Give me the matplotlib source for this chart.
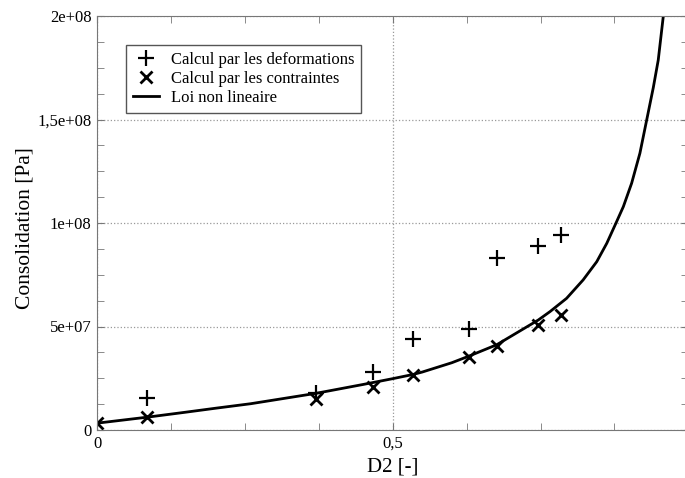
import matplotlib
matplotlib.use('Agg')
import matplotlib.pyplot as plt
from matplotlib.ticker import MultipleLocator, FuncFormatter

plt.rcParams['font.family'] = ['Liberation Serif', 'DejaVu Serif']

# points
d2 = [0.0, 0.085, 0.370, 0.466, 0.534, 0.629, 0.676, 0.746, 0.785]
cons_deform = [None, 1.55e7, 1.80e7, 2.80e7, 4.38e7, 4.89e7, 8.32e7, 8.89e7, 9.42e7]
cons_contr = [3.4e6, 6.3e6, 1.50e7, 2.09e7, 2.64e7, 3.54e7, 4.06e7, 5.07e7, 5.57e7]

# non linear law
loi_x = [0.0, 0.085, 0.15, 0.20, 0.26, 0.37, 0.45, 0.50, 0.534, 0.55, 0.60, 0.629,
         0.676, 0.746, 0.766, 0.794, 0.822, 0.845, 0.862, 0.8776, 0.890, 0.904,
         0.918, 0.9295, 0.9407, 0.949, 0.9576, 0.964]
loi_y = [3.3e6, 6.2e6, 8.6e6, 1.05e7, 1.27e7, 1.77e7, 2.2e7, 2.48e7, 2.68e7, 2.8e7,
         3.25e7, 3.57e7, 4.12e7, 5.31e7, 5.72e7, 6.36e7, 7.25e7, 8.13e7, 9.02e7,
         1.0e8, 1.079e8, 1.192e8, 1.337e8, 1.498e8, 1.655e8, 1.787e8, 2.0e8, 2.18e8]

fig = plt.figure(figsize=(6.85, 4.78), dpi=100)
ax = fig.add_axes([97 / 685, 48 / 478, 591.4 / 685, 414 / 478])

px = [x for x, y in zip(d2, cons_deform) if y is not None]
py = [y for y in cons_deform if y is not None]
ax.plot(px, py, linestyle='none', marker='+', markersize=12, markeredgewidth=1.6,
        color='black', label='Calcul par les deformations')
ax.plot(d2, cons_contr, linestyle='none', marker='x', markersize=9, markeredgewidth=2,
        color='black', label='Calcul par les contraintes')
ax.plot(loi_x, loi_y, color='black', linewidth=2, label='Loi non lineaire',
        solid_joinstyle='round')

ax.set_xlim(0, 1)
ax.set_ylim(0, 2e8)
ax.xaxis.set_major_locator(MultipleLocator(0.5))
ax.xaxis.set_minor_locator(MultipleLocator(0.125))
ax.yaxis.set_major_locator(MultipleLocator(5e7))
ax.yaxis.set_minor_locator(MultipleLocator(1.25e7))


def fmt_x(v, pos):
    if v == 0:
        return '0'
    if v >= 1:
        return ''
    return ('%g' % v).replace('.', ',')


def fmt_y(v, pos):
    labels = {0: '0', 5e7: '5e+07', 1e8: '1e+08', 1.5e8: '1,5e+08', 2e8: '2e+08'}
    return labels.get(v, '')


ax.xaxis.set_major_formatter(FuncFormatter(fmt_x))
ax.yaxis.set_major_formatter(FuncFormatter(fmt_y))
ax.tick_params(which='both', direction='in', top=True, right=True, length=5,
               color='#777777', labelsize=12, pad=4)
ax.grid(which='major', linestyle=':', color='#999999', linewidth=0.9)
for s in ax.spines.values():
    s.set_color('#777777')

ax.set_xlabel('D2 [-]', fontsize=15, labelpad=4)
ax.set_ylabel('Consolidation [Pa]', fontsize=15.5)
ax.yaxis.set_label_coords(-0.106, 0.487)

leg = ax.legend(loc='upper left', bbox_to_anchor=(0.049, 0.93), fontsize=12,
                fancybox=False, framealpha=1, edgecolor='#555555',
                handlelength=1.6, handletextpad=0.7, borderpad=0.4,
                labelspacing=0.2, borderaxespad=0)
leg.get_frame().set_linewidth(1)

fig.savefig('out.png', dpi=100)
